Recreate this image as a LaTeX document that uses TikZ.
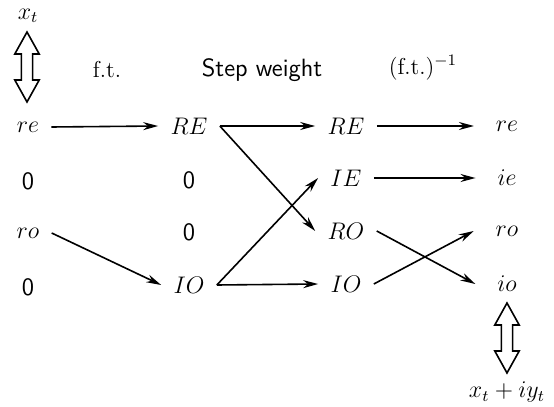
\documentclass[tikz,border=0pt]{standalone}
\usepackage{amsmath}
\usepackage{tikz}
\usetikzlibrary{arrows.meta,shapes.arrows}

\begin{document}
\begin{tikzpicture}[
  x=0.5pt, y=-0.5pt,
  every node/.style={font=\fontsize{11.5}{13}\selectfont},
  lbl/.style={inner xsep=6pt, inner ysep=2pt},
  outlbl/.style={lbl, outer xsep=5pt},
  zero/.style={font=\fontsize{12.5}{14}\selectfont\sffamily},
  ttl/.style={inner sep=1pt},
  dbl/.style={double arrow, draw, fill=white, line width=0.8pt,
              shape border rotate=90, inner sep=2.4pt,
              minimum width=11.5pt, double arrow head extend=3.3pt,
              double arrow tip angle=58},
  arr/.style={-{Stealth[length=7.5pt,width=4pt]}, line width=0.8pt},
]
\useasboundingbox (0,0) rectangle (554,407);
\node[ttl] (xt)   at ( 28, 16) {$x_t$};
\node[ttl] (ft)   at (107, 70) {f.t.};
\node[ttl,font=\fontsize{12.5}{14}\selectfont\sffamily] (sw) at (262, 70) {Step weight};
\node[ttl] (ift)  at (423, 68) {(f.t.)$^{-1}$};
\node[dbl, minimum height=35pt] (ua) at (27, 67) {};
\node[lbl]  (re1) at ( 28,127) {$re$};
\node[lbl,zero] (z1)  at ( 28,181) {0};
\node[lbl]  (ro1) at ( 28,233) {$ro$};
\node[lbl,zero] (z2)  at ( 28,287) {0};
\node[lbl]  (RE2) at (189,126) {$RE$};
\node[lbl,zero] (z3)  at (189,180) {0};
\node[lbl,zero] (z4)  at (189,232) {0};
\node[lbl]  (IO2) at (189,285) {$IO$};
\node[lbl]  (RE3) at (346,126) {$RE$};
\node[lbl]  (IE3) at (346,178) {$IE$};
\node[lbl]  (RO3) at (346,231) {$RO$};
\node[lbl]  (IO3) at (346,284) {$IO$};
\node[outlbl] (re4) at (507,126) {$re$};
\node[outlbl] (ie4) at (507,178) {$ie$};
\node[outlbl] (ro4) at (507,231) {$ro$};
\node[outlbl] (io4) at (507,284) {$io$};
\node[dbl, minimum height=35pt] (la) at (507,338) {};
\node[ttl] (xy)   at (507,392) {$x_t+iy_t$};
\draw[arr] (re1.east) -- (RE2.west);
\draw[arr] (ro1.east) -- (IO2.west);
\draw[arr] (RE2.east) -- (RE3.west);
\draw[arr] (RE2.east) -- (RO3.west);
\draw[arr] (IO2.east) -- (IE3.west);
\draw[arr] (IO2.east) -- (IO3.west);
\draw[arr] (RE3.east) -- (re4.west);
\draw[arr] (IE3.east) -- (ie4.west);
\draw[arr] (RO3.east) -- (io4.west);
\draw[arr] (IO3.east) -- (ro4.west);
\end{tikzpicture}
\end{document}
